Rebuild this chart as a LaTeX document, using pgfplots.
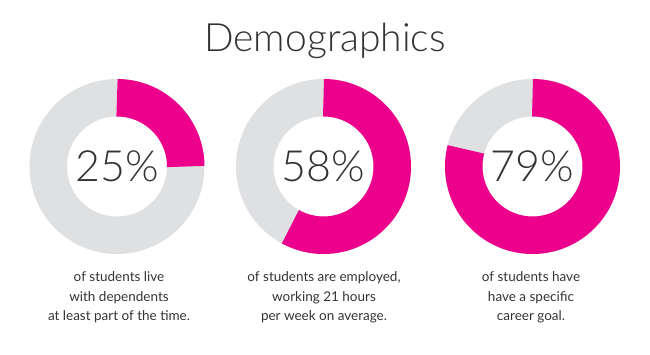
\documentclass[border=0pt]{standalone}
\usepackage{pgfplots}
\pgfplotsset{compat=1.18}
\usepackage{pgfplotstable}
\usepackage{fontspec}
\setmainfont{Lato}
\newfontfamily\lightfont{Lato Light}
\definecolor{ringpink}{HTML}{EC008C}
\definecolor{ringgray}{HTML}{DFE0E2}
\definecolor{txt}{HTML}{333333}

\pgfplotstableread{
cx cy v
117 188.5 25
323.5 188.5 58
532.5 188.5 79
}\donuts

% ring: centre x, percentage
\newcommand\ring[2]{%
  \draw[ringgray, line width=37.5pt] (axis cs:#1,188.5) circle[radius=68.75pt];
  \draw[ringpink, line width=37.5pt, line cap=butt] (axis cs:#1,257.25) arc[start angle=90, delta angle={-3.6*#2}, radius=68.75pt];
}

\begin{document}
\begin{tikzpicture}
\begin{axis}[
  width=650pt, height=355pt, scale only axis,
  xmin=0, xmax=650, ymin=0, ymax=355,
  axis lines=none, clip=false,
  /pgf/number format/assume math mode=true,
]
\path (rel axis cs:0,0) rectangle (rel axis cs:1,1);
\ring{117}{25}
\ring{323.5}{58}
\ring{532.5}{79}
\addplot[only marks, mark=none,
  point meta=explicit,
  nodes near coords={\lightfont\pgfmathprintnumber[fixed,precision=0]{\pgfplotspointmeta}\%},
  every node near coord/.append style={anchor=center, text=txt, inner sep=0pt, font=\fontsize{43}{43}\selectfont},
] table[x=cx, y=cy, meta=v] {\donuts};

\node[font={\lightfont\fontsize{39}{39}\selectfont}, text=txt, anchor=base, inner sep=0pt] at (axis cs:325,303) {Demographics};

\begin{scope}[every node/.style={font=\fontsize{13.5}{16}\selectfont, text=txt, anchor=base, inner sep=0pt}]
\node at (axis cs:119,73.5) {of students live};
\node at (axis cs:119,53.5) {with dependents};
\node at (axis cs:119,34) {at least part of the time.};
\node at (axis cs:324,73.5) {of students are employed,};
\node at (axis cs:324,53.5) {working 21 hours};
\node at (axis cs:324,34) {per week on average.};
\node at (axis cs:531,73.5) {of students have};
\node at (axis cs:531,53.5) {have a specific};
\node at (axis cs:531,34) {career goal.};
\end{scope}
\end{axis}
\end{tikzpicture}
\end{document}
